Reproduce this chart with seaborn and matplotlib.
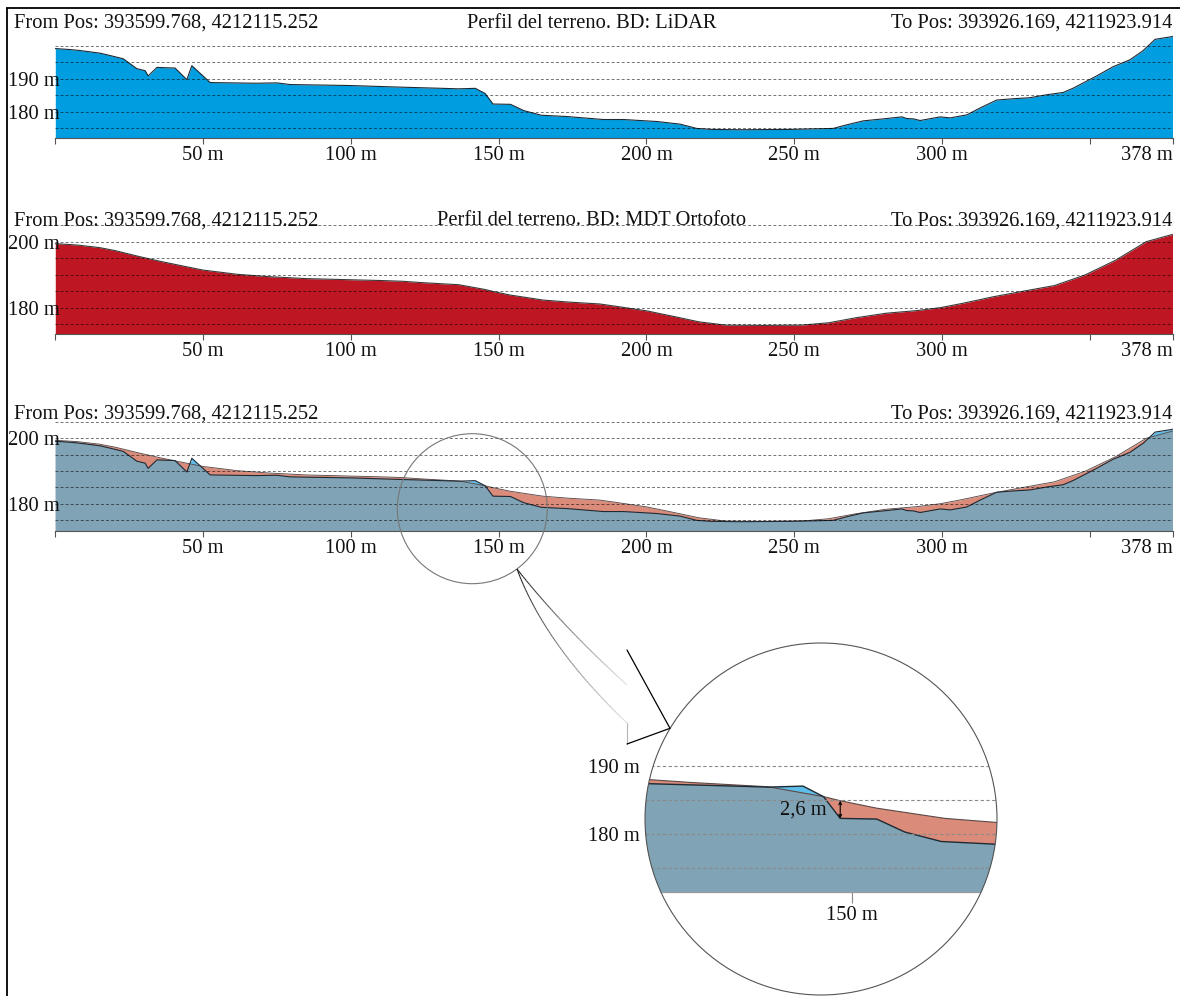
import numpy as np
import matplotlib
matplotlib.use("Agg")
import matplotlib.pyplot as plt
from matplotlib.patches import Circle
from matplotlib.collections import LineCollection
import seaborn as sns

# ---------------------------------------------------------------- data
# LiDAR terrain profile: distance along the section (m) / elevation (m)
lidar_dist = [0, 5, 8.4, 15.2, 18.5, 23, 27.6, 30.4, 31.4, 34.4, 37.1, 40.5,
              44.5, 46.2, 52.4, 68, 75, 79.4, 99.7, 117.3, 129, 136.5, 142.1,
              145.4, 148.1, 154, 158.5, 164.4, 173.2, 185.4, 192.2, 203.5,
              211.4, 217, 222, 231.7, 248.6, 263.2, 267.8, 273.4, 281.3, 286.4,
              288.1, 290.3, 292.6, 299.4, 302.8, 308.4, 312.9, 318.5, 324.1,
              329.7, 335.4, 341, 344.4, 352.3, 357.9, 363.6, 368.1, 372.1,
              377.7, 378]
lidar_elev = [199.1, 198.8, 198.5, 197.7, 197.0, 196.0, 193.0, 192.4, 190.8,
              193.4, 193.3, 193.2, 189.7, 193.9, 188.8, 188.6, 188.7, 188.2,
              187.9, 187.4, 187.1, 186.9, 187.05, 185.5, 182.3, 182.2, 180.3,
              178.9, 178.5, 177.6, 177.6, 177.0, 176.2, 174.9, 174.6, 174.5,
              174.6, 174.9, 176.0, 177.2, 177.9, 178.4, 177.9, 177.8, 177.3,
              178.4, 178.1, 179.0, 181.1, 183.5, 183.9, 184.2, 185.1, 185.8,
              187.1, 190.8, 193.6, 195.7, 198.5, 201.9, 202.7, 202.8]

# MDT (orthophoto surface model) terrain profile
mdt_dist = [0, 7.2, 15, 20.2, 27.9, 35.7, 42.2, 49.9, 61.6, 72, 84.9, 97.8,
            110.8, 117.3, 123.7, 131.5, 136.5, 145.4, 148.1, 154, 165, 173.4,
            184.3, 190.5, 200.2, 209.9, 217.7, 226.7, 239.7, 252.6, 261.7,
            270.7, 281.1, 291.5, 299.5, 307, 317.4, 326.4, 338.1, 348.4, 358.8,
            369.1, 378]
mdt_elev = [199.4, 199.0, 198.2, 197.3, 195.6, 194.0, 192.8, 191.4, 190.1,
            189.4, 188.8, 188.5, 188.2, 188.0, 187.6, 187.2, 186.95, 185.5,
            184.9, 183.8, 182.3, 181.7, 181.1, 180.3, 179.0, 177.2, 175.7,
            174.7, 174.6, 174.7, 175.4, 176.9, 178.3, 179.1, 180.0, 181.3,
            183.3, 184.8, 186.7, 189.9, 194.4, 200.0, 202.2]

x_ticks = [0, 50, 100, 150, 200, 250, 300, 350, 378]
x_tick_labels = ["", "50 m", "100 m", "150 m", "200 m", "250 m", "300 m", "", "378 m"]

grid_lidar = [175, 180, 185, 190, 195, 200]
labels_lidar = ["", "180 m", "", "190 m", "", ""]
grid_full = [175, 180, 185, 190, 195, 200, 205]
labels_full = ["", "180 m", "", "", "", "200 m", ""]

zoom_x_ticks = [150]
zoom_x_labels = ["150 m"]
zoom_y_ticks = [180, 190]
zoom_y_labels = ["180 m", "190 m"]
zoom_grid = [175, 180, 185, 190]
diff_at = 148.1          # distance where the LiDAR / MDT gap is measured

from_pos = "From Pos: 393599.768, 4212115.252"
to_pos = "To Pos: 393926.169, 4211923.914"
title_lidar = "Perfil del terreno. BD: LiDAR"
title_mdt = "Perfil del terreno. BD: MDT Ortofoto"

# ---------------------------------------------------------------- style
LIDAR_BLUE = "#009EE0"
MDT_RED = "#BE1622"
STEEL = "#80A3B5"
SALMON = "#DB8B7A"
SKY = "#5FBDEA"
FS = 14.8

sns.set_theme(style="white")
plt.rcParams["font.family"] = ["Liberation Serif", "DejaVu Serif"]
plt.rcParams["text.color"] = "#111111"

W, H = 1180, 996
fig = plt.figure(figsize=(W / 100, H / 100), dpi=100)


def rect(left, top, right, bottom):
    return [left / W, 1 - bottom / H, (right - left) / W, (bottom - top) / H]


def style_profile(ax, ylo, yhi, yticks, ylabels):
    ax.set_xlim(0, 378)
    ax.set_ylim(ylo, yhi)
    ax.patch.set_visible(False)
    for s in ("top", "right", "left"):
        ax.spines[s].set_visible(False)
    ax.spines["bottom"].set_color("#555555")
    ax.spines["bottom"].set_linewidth(0.8)
    ax.set_xticks(x_ticks)
    ax.set_xticklabels(x_tick_labels)
    ax.get_xticklabels()[-1].set_ha("right")
    ax.set_yticks(yticks)
    ax.set_yticklabels(ylabels)
    for t in ax.get_yticklabels():
        t.set_ha("left")
    ax.tick_params(axis="x", bottom=True, length=4.3, width=0.8, color="#555555",
                   pad=1.5, labelsize=FS, labelcolor="#111111")
    ax.tick_params(axis="y", left=False, length=0, pad=33.7, labelsize=FS,
                   labelcolor="#111111")
    ax.grid(False)
    ax.grid(axis="y", color="black", alpha=0.55, lw=0.7, ls=(0, (3, 2.2)))
    ax.set_axisbelow(False)
    ax.set_xlabel("")
    ax.set_ylabel("")


def comparison_layers(ax, base, lw, clip=None):
    """Steel where both surfaces overlap, salmon where MDT is higher,
    sky blue where LiDAR is higher."""
    d = np.union1d(lidar_dist, mdt_dist)
    li = np.interp(d, lidar_dist, lidar_elev)
    md = np.interp(d, mdt_dist, mdt_elev)
    gap = li - md
    cross = np.where(gap[:-1] * gap[1:] < 0)[0]
    xc = d[cross] + gap[cross] / (gap[cross] - gap[cross + 1]) * (d[cross + 1] - d[cross])
    d = np.union1d(d, xc)
    li = np.interp(d, lidar_dist, lidar_elev)
    md = np.interp(d, mdt_dist, mdt_elev)
    arts = [
        ax.fill_between(d, md, base, color=SALMON, lw=0, zorder=1),
        ax.fill_between(d, li, base, color=SKY, lw=0, zorder=1.1),
        ax.fill_between(d, np.minimum(li, md), base, color=STEEL, lw=0, zorder=1.2),
    ]
    sns.lineplot(x=mdt_dist, y=mdt_elev, ax=ax, color="#5a4a48", lw=lw * 0.8,
                 estimator=None, sort=False, zorder=2)
    arts.append(ax.lines[-1])
    sns.lineplot(x=lidar_dist, y=lidar_elev, ax=ax, color="#1f2a33", lw=lw,
                 estimator=None, sort=False, zorder=2.1)
    arts.append(ax.lines[-1])
    if clip is not None:
        for a in arts:
            a.set_clip_path(clip)


# ---------------------------------------------------------------- panel 1: LiDAR
ax1 = fig.add_axes(rect(55.3, 32.4, 1172.5, 138))
ax1.fill_between(lidar_dist, lidar_elev, 172, color=LIDAR_BLUE, lw=0, zorder=1)
sns.lineplot(x=lidar_dist, y=lidar_elev, ax=ax1, color="#1b2a35", lw=0.8,
             estimator=None, sort=False)
style_profile(ax1, 172, 204, grid_lidar, labels_lidar)

# ---------------------------------------------------------------- panel 2: MDT
ax2 = fig.add_axes(rect(55.3, 221.9, 1172.5, 334))
ax2.fill_between(mdt_dist, mdt_elev, 172, color=MDT_RED, lw=0, zorder=1)
sns.lineplot(x=mdt_dist, y=mdt_elev, ax=ax2, color="#3a3a3a", lw=0.8,
             estimator=None, sort=False)
style_profile(ax2, 172, 206, grid_full, labels_full)

# ---------------------------------------------------------------- panel 3: comparison
ax3 = fig.add_axes(rect(55.3, 418.7, 1172.5, 531))
comparison_layers(ax3, 171.65, 0.8)
style_profile(ax3, 171.65, 206, grid_full, labels_full)

# ---------------------------------------------------------------- magnified view
ax4 = fig.add_axes(rect(645, 643, 997, 995))
ax4.set_xlim(145.0 - 28.39, 145.0 + 28.39)
ax4.set_ylim(182.21 - 25.88, 182.21 + 25.88)
ax4.patch.set_visible(False)
lens = Circle((0.5, 0.5), 0.5, transform=ax4.transAxes)
zoom_base = 171.5
comparison_layers(ax4, zoom_base, 1.0, clip=lens)
for g in zoom_grid:
    gl = ax4.axhline(g, color="#8a8a8a", lw=0.8, ls=(0, (3, 2.2)), zorder=2.5)
    gl.set_clip_path(lens)
for s in ("top", "right", "left"):
    ax4.spines[s].set_visible(False)
ax4.spines["bottom"].set_position(("data", zoom_base))
ax4.spines["bottom"].set_color("#9a9a9a")
ax4.spines["bottom"].set_linewidth(0.9)
ax4.spines["bottom"].set_clip_path(lens)
ax4.set_xticks(zoom_x_ticks)
ax4.set_xticklabels(zoom_x_labels)
ax4.set_yticks(zoom_y_ticks)
ax4.set_yticklabels(zoom_y_labels)
ax4.tick_params(axis="x", bottom=True, length=8, width=0.8, color="#888888",
                pad=2, labelsize=FS, labelcolor="#111111")
ax4.tick_params(axis="y", left=False, length=0, pad=3.6, labelsize=FS,
                labelcolor="#111111")
ax4.grid(False)
ax4.set_xlabel("")
ax4.set_ylabel("")
ax4.add_patch(Circle((0.5, 0.5), 0.5, transform=ax4.transAxes, fill=False,
                     ec="#555555", lw=0.8, clip_on=False, zorder=5))

lo = float(np.interp(diff_at, lidar_dist, lidar_elev))
hi = float(np.interp(diff_at, mdt_dist, mdt_elev))
ax4.annotate("", xy=(diff_at, hi), xytext=(diff_at, lo),
             arrowprops=dict(arrowstyle="<->", lw=0.8, color="black",
                             shrinkA=0, shrinkB=0, mutation_scale=5), zorder=4)
ax4.annotate(f"{hi - lo:.1f} m".replace(".", ","), xy=(diff_at, (lo + hi) / 2),
             xytext=(-10, 0), textcoords="offset points", ha="right",
             va="center", fontsize=FS, zorder=4)

# ---------------------------------------------------------------- overlay (pixel units)
ov = fig.add_axes([0, 0, 1, 1], zorder=10)
ov.set_xlim(0, W)
ov.set_ylim(H, 0)
ov.axis("off")
ov.patch.set_visible(False)

# frame
ov.plot([6, W], [8, 8], color="black", lw=1.3, solid_capstyle="butt")
ov.plot([7, 7], [8, H], color="black", lw=1.3, solid_capstyle="butt")

# headers
for base_y, title in ((27.5, title_lidar), (225.3, title_mdt), (418.8, None)):
    ov.text(14, base_y, from_pos, fontsize=FS, ha="left", va="baseline")
    ov.text(1172.5, base_y, to_pos, fontsize=FS, ha="right", va="baseline")
    if title:
        ov.text(592, base_y, title, fontsize=FS, ha="center", va="baseline")

# lens on the comparison panel
ov.add_patch(Circle((472.3, 508.7), 75, fill=False, ec="#777777", lw=0.8))


# callout arrow from the small lens to the magnified view
def qbez(p0, p1, p2, n=60):
    t = np.linspace(0, 1, n)[:, None]
    p0, p1, p2 = map(np.asarray, (p0, p1, p2))
    return (1 - t) ** 2 * p0 + 2 * (1 - t) * t * p1 + t ** 2 * p2


for ctrl, end in (((562, 626), (627, 685)), ((545, 645), (627, 723))):
    pts = qbez((517, 569), ctrl, end)
    segs = np.stack([pts[:-1], pts[1:]], axis=1)
    g = np.linspace(0.12, 0.88, len(segs))
    ov.add_collection(LineCollection(segs, colors=np.c_[g, g, g], lw=0.8))
ov.plot([627, 627], [723, 744], color="#b5b5b5", lw=0.8)
ov.plot([627, 670, 627], [744, 728.3, 650], color="black", lw=0.9)

fig.savefig("out.png", dpi=100)
